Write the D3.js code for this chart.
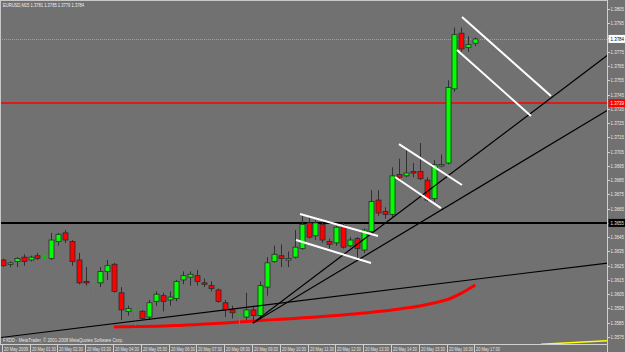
<!DOCTYPE html>
<html><head><meta charset="utf-8">
<script src="https://cdn.jsdelivr.net/npm/d3@7"></script>
<style>body{margin:0;background:#717171;overflow:hidden}svg{display:block}</style>
</head><body><svg id="c" width="625" height="352"></svg>
<script>
const titleText = "EURUSD,M15  1.3781 1.3785 1.3779 1.3784";
const creditText = "FXDD - MetaTrader, \u00a9 2001-2008 MetaQuotes Software Corp.";
const opens  = [1.3629,1.3626,1.3628,1.3631,1.3629,1.3632,1.3631,1.3630,1.3642,1.3648,1.3642,1.3629,1.3614,1.3614,1.3613,1.3621,1.3626,1.3606,1.3593,1.3594,1.3593,1.3589,1.3600,1.3604,1.3601,1.3602,1.3615,1.3617,1.3618,1.3613,1.3611,1.3608,1.3599,1.3594,1.3591,1.3589,1.3594,1.3590,1.3610,1.3628,1.3632,1.3629,1.3631,1.3637,1.3655,1.3646,1.3654,1.3642,1.3641,1.3653,1.3639,1.3644,1.3636,1.3649,1.3671,1.3663,1.3661,1.3689,1.3688,1.3691,1.3691,1.3685,1.3672,1.3695,1.3697,1.3749,1.3788,1.3778,1.3781];
const highs  = [1.3630,1.3628,1.3631,1.3633,1.3632,1.3634,1.3633,1.3648,1.3648,1.3650,1.3643,1.3634,1.3624,1.3618,1.3624,1.3629,1.3627,1.3610,1.3597,1.3597,1.3594,1.3601,1.3607,1.3606,1.3607,1.3615,1.3621,1.3621,1.3622,1.3616,1.3614,1.3609,1.3601,1.3597,1.3595,1.3606,1.3597,1.3614,1.3631,1.3639,1.3640,1.3635,1.3650,1.3660,1.3660,1.3657,1.3657,1.3644,1.3653,1.3655,1.3645,1.3645,1.3651,1.3678,1.3678,1.3666,1.3694,1.3700,1.3707,1.3697,1.3711,1.3687,1.3699,1.3703,1.3755,1.3792,1.3792,1.3786,1.3785];
const lows   = [1.3624,1.3624,1.3624,1.3625,1.3628,1.3629,1.3629,1.3629,1.3639,1.3641,1.3625,1.3612,1.3611,1.3606,1.3610,1.3615,1.3606,1.3587,1.3590,1.3583,1.3587,1.3587,1.3597,1.3593,1.3597,1.3600,1.3612,1.3611,1.3611,1.3610,1.3607,1.3599,1.3589,1.3588,1.3583,1.3587,1.3586,1.3588,1.3604,1.3627,1.3624,1.3624,1.3630,1.3636,1.3644,1.3643,1.3641,1.3637,1.3639,1.3637,1.3638,1.3630,1.3634,1.3648,1.3660,1.3658,1.3659,1.3685,1.3687,1.3687,1.3685,1.3670,1.3670,1.3694,1.3696,1.3747,1.3775,1.3775,1.3779];
const closes = [1.3625,1.3627,1.3630,1.3628,1.3631,1.3630,1.3631,1.3643,1.3647,1.3643,1.3628,1.3613,1.3613,1.3614,1.3621,1.3625,1.3607,1.3594,1.3595,1.3594,1.3588,1.3599,1.3605,1.3600,1.3603,1.3614,1.3618,1.3619,1.3614,1.3612,1.3609,1.3600,1.3594,1.3592,1.3591,1.3594,1.3590,1.3611,1.3627,1.3633,1.3630,1.3630,1.3638,1.3654,1.3645,1.3655,1.3643,1.3640,1.3652,1.3638,1.3643,1.3637,1.3650,1.3670,1.3662,1.3661,1.3688,1.3687,1.3690,1.3690,1.3686,1.3671,1.3696,1.3696,1.3750,1.3787,1.3777,1.3780,1.3784];
const timeLabels = ["20 May 2009","20 May 01:30","20 May 02:30","20 May 03:30","20 May 04:30","20 May 05:30","20 May 06:30","20 May 07:30","20 May 08:30","20 May 09:30","20 May 10:30","20 May 11:30","20 May 12:30","20 May 13:30","20 May 14:30","20 May 15:30","20 May 16:30","20 May 17:30"];
const priceTicks = [1.3805,1.3795,1.3785,1.3775,1.3765,1.3755,1.3745,1.3735,1.3725,1.3715,1.3705,1.3695,1.3685,1.3675,1.3665,1.3655,1.3645,1.3635,1.3625,1.3615,1.3605,1.3595,1.3585,1.3575];
const maBars   = [16,18,20,22,24,26,28,30,32,34,36,38,40,42,44,46,48,50,52,54,56,58,60,62,64,66,68];
const maValues = [1.35820,1.35822,1.35824,1.35826,1.35829,1.35832,1.35838,1.35843,1.35849,1.35855,1.35862,1.35869,1.35874,1.35880,1.35887,1.35894,1.35901,1.35909,1.35918,1.35929,1.35939,1.35953,1.35967,1.35988,1.36013,1.36058,1.36115];
const currentPrice = 1.3784;
const redLevel = 1.3739;
const blackLevel = 1.3655;
// trendlines: [bar1, price1, bar2, price2], extended as rays
const trendBlack = [[0,1.35748,60,1.36107],[36,1.35848,66,1.36952],[36,1.35848,66,1.36725]];
// channel segments (white)
const channelWhite = [[42.78,1.36612,54.0,1.36458],[42.2,1.36430,52.99,1.36269],[57.02,1.37103,66.09,1.36816],[56.45,1.36872,63.06,1.36654],[66.09,1.37994,78.89,1.37440],[65.37,1.37762,76.01,1.37300]];
const yellowSeg = [[77.45,1.35699],[86.95,1.35724]];

const W = 625, H = 352, R = 607.5, B = 344;
const svg = d3.select("#c");
const x = d3.scaleLinear().domain([0, 68]).range([2.7, 475.3]);
const y = d3.scaleLinear().domain([1.3575, 1.3805]).range([337, 9]);
const font = "'Liberation Sans', Arial, sans-serif";

svg.append("rect").attr("width", W).attr("height", H).attr("fill", "#717171");
svg.append("defs").append("clipPath").attr("id","pc").append("rect").attr("x",1).attr("y",1).attr("width",R-1).attr("height",B-1);
const plot = svg.append("g").attr("clip-path","url(#pc)");

plot.append("line").attr("x1",0).attr("x2",R).attr("y1",Math.round(y(currentPrice))+0.5).attr("y2",Math.round(y(currentPrice))+0.5)
  .attr("stroke","#a0a0a0").attr("stroke-width",1).attr("stroke-dasharray","1,1");
plot.append("line").attr("x1",0).attr("x2",R).attr("y1",y(redLevel)).attr("y2",y(redLevel)).attr("stroke","#ff0000").attr("stroke-width",1.5);
plot.append("line").attr("x1",0).attr("x2",R).attr("y1",y(blackLevel)).attr("y2",y(blackLevel)).attr("stroke","#000").attr("stroke-width",2);

plot.append("path").datum(maBars.map((b,i)=>[b,maValues[i]]))
  .attr("d", d3.line().curve(d3.curveMonotoneX).x(d=>x(d[0])).y(d=>y(d[1])))
  .attr("fill","none").attr("stroke","#ff0000").attr("stroke-width",3);

plot.append("path").datum(yellowSeg).attr("d", d3.line().x(d=>x(d[0])).y(d=>y(d[1])))
  .attr("fill","none").attr("stroke","#ffff00").attr("stroke-width",1.5);

const data = opens.map((o,i)=>({i,o,h:highs[i],l:lows[i],c:closes[i]}));
const cg = plot.append("g");
data.forEach(d=>{
  const cx = Math.round(x(d.i))+0.5;
  if (d.o === d.c) {
    cg.append("line").attr("x1",cx).attr("x2",cx).attr("y1",y(d.h)).attr("y2",y(d.l)).attr("stroke","#00c800").attr("stroke-width",1);
    cg.append("line").attr("x1",cx-3).attr("x2",cx+3).attr("y1",y(d.o)).attr("y2",y(d.o)).attr("stroke","#00c800").attr("stroke-width",1);
    return;
  }
  cg.append("line").attr("x1",cx).attr("x2",cx).attr("y1",y(d.h)).attr("y2",y(d.l)).attr("stroke","#303030").attr("stroke-width",1);
  const top = y(Math.max(d.o,d.c)), bot = y(Math.min(d.o,d.c));
  cg.append("rect").attr("x",cx-2.5).attr("y",top).attr("width",5).attr("height",Math.max(1.5,bot-top))
    .attr("fill", d.c>d.o ? "#00ff00" : "#ff0000").attr("stroke","#2a2a2a").attr("stroke-width",0.8);
});

trendBlack.forEach(t=>{
  const [b1,p1,b2,p2] = t;
  const x1 = x(b1), y1 = y(p1), x2 = x(b2), y2 = y(p2);
  const k = (y2-y1)/(x2-x1);
  const xs = b1 === 0 ? 0 : x1;
  plot.append("line").attr("x1",xs).attr("y1",y1+k*(xs-x1)).attr("x2",R).attr("y2",y1+k*(R-x1))
    .attr("stroke","#000").attr("stroke-width",1.2);
});
channelWhite.forEach(t=>{
  plot.append("line").attr("x1",x(t[0])).attr("y1",y(t[1])).attr("x2",x(t[2])).attr("y2",y(t[3]))
    .attr("stroke","#ffffff").attr("stroke-width",2);
});

svg.append("line").attr("x1",0.5).attr("x2",R).attr("y1",0.5).attr("y2",0.5).attr("stroke","#c8c8c8");
svg.append("line").attr("x1",0.5).attr("x2",0.5).attr("y1",0).attr("y2",B).attr("stroke","#c8c8c8");
svg.append("line").attr("x1",R).attr("x2",R).attr("y1",0).attr("y2",H).attr("stroke","#d0d0d0");
svg.append("line").attr("x1",0).attr("x2",R).attr("y1",B+0.5).attr("y2",B+0.5).attr("stroke","#d0d0d0");

const ya = svg.append("g");
function ptext(p, tc){
  return ya.append("text").attr("x",610.5).attr("y",y(p)+2).text(p.toFixed(4))
    .attr("font-family",font).attr("font-size",5.6).attr("fill",tc)
    .attr("textLength",13.5).attr("lengthAdjust","spacingAndGlyphs");
}
priceTicks.forEach(p=>{
  const yy = Math.round(y(p))+0.5;
  ya.append("line").attr("x1",R).attr("x2",R+2.5).attr("y1",yy).attr("y2",yy).attr("stroke","#d0d0d0");
  ptext(p, "#e6e6e6");
});
function box(p, fill, tc){
  const yy = y(p);
  ya.append("rect").attr("x",R+1).attr("y",yy-4).attr("width",W-R).attr("height",8).attr("fill",fill);
  ptext(p, tc);
}
box(currentPrice,"#ffffff","#000");
box(redLevel,"#ff0000","#ffffff");
box(blackLevel,"#000000","#e6e6e6");

timeLabels.forEach((t,k)=>{
  const xx = Math.round(x(k*4))+0.5;
  svg.append("line").attr("x1",xx-1).attr("x2",xx-1).attr("y1",B).attr("y2",H).attr("stroke","#d0d0d0");
  svg.append("text").attr("x",xx+0.5).attr("y",350.5).text(t)
    .attr("font-family",font).attr("font-size",5.4).attr("fill","#e6e6e6")
    .attr("textLength",24).attr("lengthAdjust","spacingAndGlyphs");
});

svg.append("text").attr("x",3).attr("y",7).text(titleText).attr("font-family",font).attr("font-size",5.6).attr("fill","#f0f0f0")
  .attr("textLength",81).attr("lengthAdjust","spacingAndGlyphs");
svg.append("text").attr("x",3).attr("y",342).text(creditText).attr("font-family",font).attr("font-size",5.2).attr("fill","#e6e6e6")
  .attr("textLength",120).attr("lengthAdjust","spacingAndGlyphs");
</script></body></html>
